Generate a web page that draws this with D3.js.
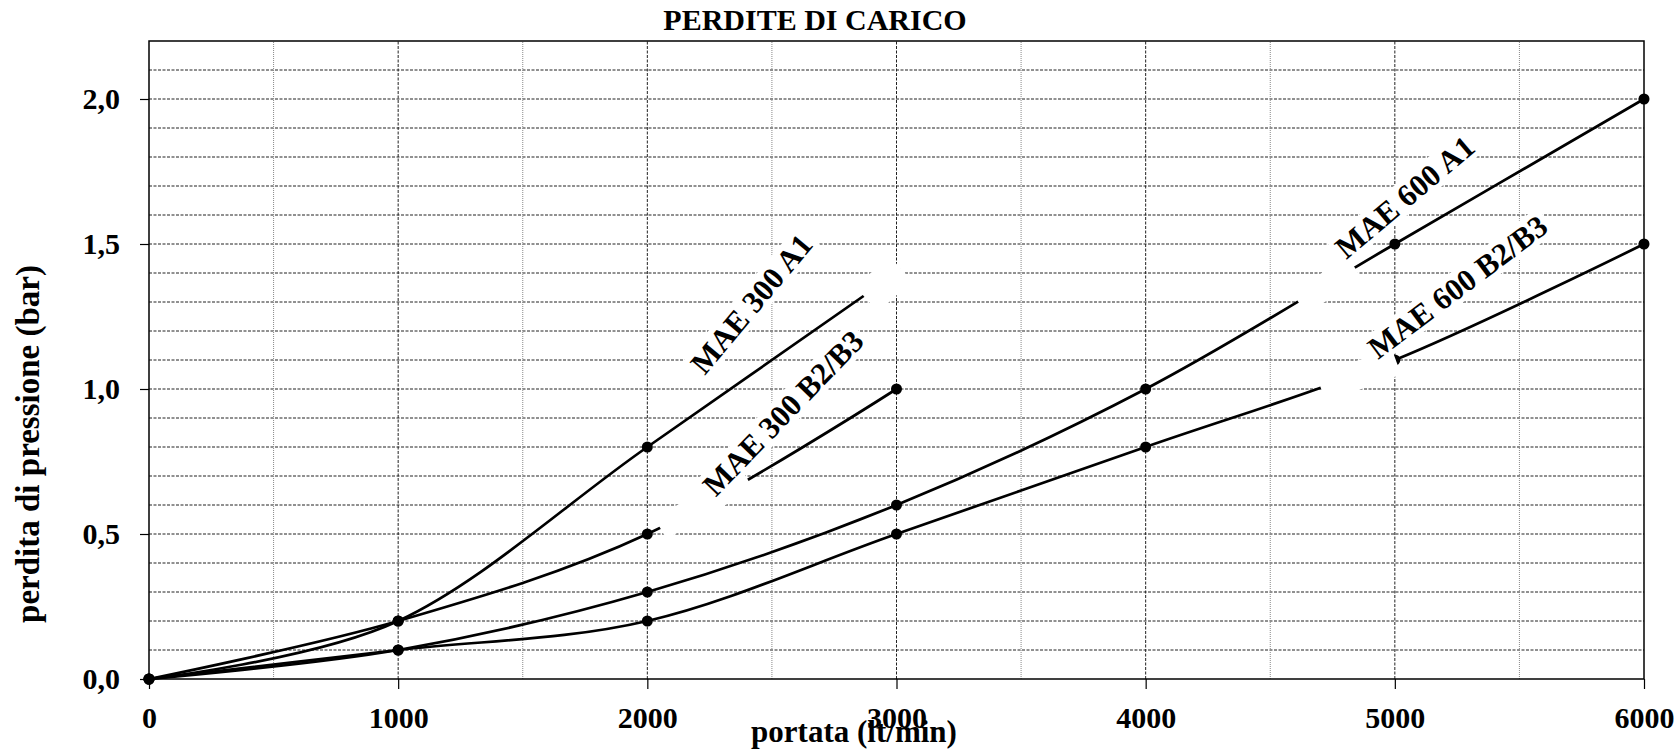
<!DOCTYPE html>
<html lang="it">
<head>
<meta charset="utf-8">
<script src="https://cdn.jsdelivr.net/npm/d3@7"></script>
<style>
  body { margin: 0; background: #fff; }
  svg { display: block; background: #fff; font-family: "Liberation Serif", "Times New Roman", serif; font-weight: bold; }
  .grid line { stroke: #222; stroke-width: 1; stroke-dasharray: 3,1.5; }
  .grid line.minor { stroke: #888; stroke-dasharray: 1,1; }
  .serie { fill: none; stroke: #000; stroke-width: 2.7; }
</style>
</head>
<body>
<script>
// dati
var portata = [0, 1000, 2000, 3000, 4000, 5000, 6000];
var mae300A1 = [0, 0.2, 0.8, 1.4];
var mae300B2 = [0, 0.2, 0.5, 1.0];
var mae600A1 = [0, 0.1, 0.3, 0.6, 1.0, 1.5, 2.0];
var mae600B2 = [0, 0.1, 0.2, 0.5, 0.8, 1.1, 1.5];
var nomiSerie = ["MAE 300 A1", "MAE 300 B2/B3", "MAE 600 A1", "MAE 600 B2/B3"];
var xTicks = [0, 1000, 2000, 3000, 4000, 5000, 6000];
var yTicks = [0, 0.5, 1.0, 1.5, 2.0];
var yTickLabels = ["0,0", "0,5", "1,0", "1,5", "2,0"];

var W = 1678, H = 751;
var m = { top: 41, right: 34, bottom: 72, left: 149 };

var x = d3.scaleLinear().domain([0, 6000]).range([m.left, W - m.right]);
var y = d3.scaleLinear().domain([0, 2.2]).range([H - m.bottom, m.top]);

var svg = d3.select("body").append("svg").attr("width", W).attr("height", H);

// griglia
var grid = svg.append("g").attr("class", "grid");
grid.selectAll("line.h")
  .data(d3.range(1, 22).map(function(i){ return i / 10; }))
  .enter().append("line")
  .attr("x1", x(0)).attr("x2", x(6000))
  .attr("y1", function(d){ return y(d); }).attr("y2", function(d){ return y(d); });
grid.selectAll("line.v")
  .data(d3.range(1, 12).map(function(i){ return i * 500; }))
  .enter().append("line")
  .attr("class", function(d){ return d % 1000 ? "minor" : null; })
  .attr("x1", function(d){ return x(d); }).attr("x2", function(d){ return x(d); })
  .attr("y1", y(0)).attr("y2", y(2.2));

// cornice
svg.append("rect")
  .attr("x", x(0)).attr("y", y(2.2))
  .attr("width", x(6000) - x(0)).attr("height", y(0) - y(2.2))
  .attr("fill", "none").attr("stroke", "#000").attr("stroke-width", 1.5);

// assi
var xAxis = svg.append("g").attr("transform", "translate(0," + y(0) + ")")
  .call(d3.axisBottom(x).tickValues(xTicks).tickSize(10).tickPadding(16).tickFormat(d3.format("d")));
var yAxis = svg.append("g").attr("transform", "translate(" + x(0) + ",0)")
  .call(d3.axisLeft(y).tickValues(yTicks).tickSize(9).tickPadding(20)
    .tickFormat(function(d, i){ return yTickLabels[i]; }));
[xAxis, yAxis].forEach(function(a){
  a.attr("font-family", null).attr("font-size", null);
  a.select(".domain").remove();
  a.selectAll(".tick line").attr("stroke", "#000").attr("stroke-width", 1.2);
  a.selectAll("text").attr("font-size", 30).attr("fill", "#000");
});
xAxis.selectAll("text").attr("dy", "0.75em");

// serie
var serie = [mae300A1, mae300B2, mae600A1, mae600B2];
var line = d3.line()
  .x(function(d, i){ return x(portata[i]); })
  .y(function(d){ return y(d); })
  .curve(d3.curveCardinal.tension(0));

svg.append("g").selectAll("path")
  .data(serie).enter().append("path")
  .attr("class", "serie")
  .attr("d", line);

serie.forEach(function(s){
  svg.append("g").selectAll("circle")
    .data(s).enter().append("circle")
    .attr("cx", function(d, i){ return x(portata[i]); })
    .attr("cy", function(d){ return y(d); })
    .attr("r", 5.5).attr("fill", "#000");
});

// riquadri bianchi che coprono parti delle curve (come nell'originale)
var coperture = [
  { px: 2949, py: 1.362, w: 46, h: 34, a: -42 },
  { px: 2227, py: 0.605, w: 100, h: 24, a: -30 },
  { px: 4727, py: 1.358, w: 66, h: 26, a: -33 },
  { px: 4855, py: 1.048, w: 80, h: 28, a: -20 }
];
svg.append("g").selectAll("rect")
  .data(coperture).enter().append("rect")
  .attr("x", function(d){ return -d.w / 2; }).attr("y", function(d){ return -d.h / 2; })
  .attr("width", function(d){ return d.w; }).attr("height", function(d){ return d.h; })
  .attr("fill", "#fff")
  .attr("transform", function(d){ return "translate(" + x(d.px) + "," + y(d.py) + ") rotate(" + d.a + ")"; });

// etichette delle curve
var etichette = [
  { px: 2230, py: 1.045, a: -50 },
  { px: 2275, py: 0.625, a: -46 },
  { px: 4805, py: 1.445, a: -40 },
  { px: 4932, py: 1.100, a: -37 }
];
etichette.forEach(function(e, i){
  var g = svg.append("g")
    .attr("transform", "translate(" + x(e.px) + "," + y(e.py) + ") rotate(" + e.a + ")");
  var bg = g.append("rect").attr("fill", "#fff");
  var t = g.append("text").attr("font-size", 31).attr("fill", "#000").text(nomiSerie[i]);
  var b = t.node().getBBox();
  bg.attr("x", b.x - 4).attr("y", b.y + 2).attr("width", b.width + 8).attr("height", b.height - 4);
});

// titoli
svg.append("text")
  .attr("x", 815).attr("y", 30)
  .attr("text-anchor", "middle").attr("font-size", 30)
  .text("PERDITE DI CARICO");

svg.append("text")
  .attr("x", 854).attr("y", 742)
  .attr("text-anchor", "middle").attr("font-size", 31)
  .text("portata (lt/min)");

svg.append("text")
  .attr("transform", "translate(39,444) rotate(-90)")
  .attr("text-anchor", "middle").attr("font-size", 33)
  .text("perdita di pressione (bar)");
</script>
</body>
</html>
